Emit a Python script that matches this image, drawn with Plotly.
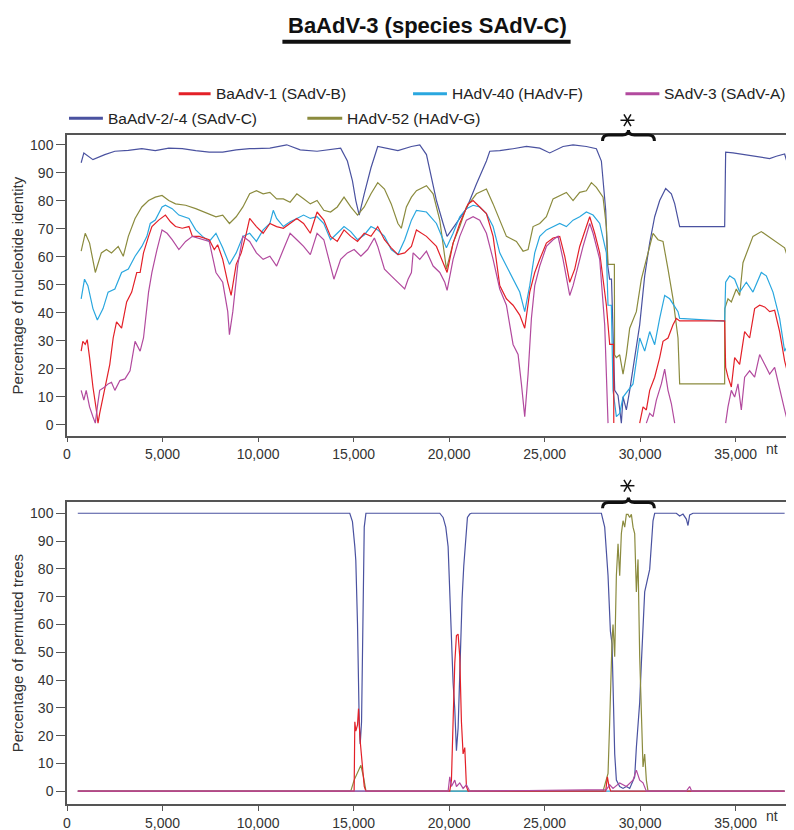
import plotly.graph_objects as go

# ---------------- data ----------------
SERIES_NAMES = ["BaAdV-1 (SAdV-B)", "HAdV-40 (HAdV-F)", "SAdV-3 (SAdV-A)",
                "BaAdV-2/-4 (SAdV-C)", "HAdV-52 (HAdV-G)"]
COLORS = {"red": "#e32028", "cyan": "#2aa7df", "magenta": "#b24a9e",
          "navy": "#4a52a0", "olive": "#8b8b3e"}
X_TICKS = [0, 5000, 10000, 15000, 20000, 25000, 30000, 35000]
X_TICK_LABELS = ["0", "5,000", "10,000", "15,000", "20,000", "25,000", "30,000", "35,000"]
Y_TICKS = [0, 10, 20, 30, 40, 50, 60, 70, 80, 90, 100]

# top panel: percentage of nucleotide identity (nt position, %)
TOP_NAVY = [(741, 93.6), (882, 97.1), (1358, 94.7), (1976, 96.5), (2505, 97.7), (3210, 98), (3916, 98.6),
            (4622, 97.9), (5327, 98.8), (6033, 98.6), (6738, 97.9), (7444, 97.4), (8150, 97.4), (8855, 98.2),
            (9561, 98.6), (10619, 98.8), (11501, 100), (12207, 98.2), (13089, 97.7), (13794, 98.2),
            (14324, 98.8), (14676, 94.2), (14941, 87.1), (15117, 80.1), (15294, 74.9), (15558, 82.5),
            (15911, 91.8), (16264, 99.4), (16793, 98.6), (17322, 97.9), (18028, 99.4), (18465, 100),
            (18814, 96.5), (19076, 88.3), (19337, 80.1), (19686, 71.9), (19895, 67.3), (20384, 72),
            (20907, 77.2), (21430, 86), (21953, 94.2), (22128, 97.7), (22651, 97.9), (23348, 98.6),
            (24046, 99.4), (24744, 98.8), (25267, 97.1), (25964, 99.4), (26488, 100), (27185, 99.4),
            (27708, 98.6), (27970, 94.2), (28197, 76.6), (28300, 57), (28400, 52), (28500, 52), (28580, 30),
            (28668, 12.3), (28842, 10.5), (29016, 0.6), (29104, 10), (29278, 5.3), (29452, 12.3),
            (29714, 24), (29976, 35.7), (30237, 53.2), (30499, 65), (30760, 74.3), (31022, 80.1),
            (31336, 84.4), (31632, 82.5), (31807, 79), (32068, 70.8), (34423, 70.8), (34475, 97.4),
            (34859, 97.1), (35208, 96.7), (35731, 96.3), (36254, 95.6), (36777, 95.1), (37126, 95.9),
            (37562, 96.7), (37736, 92.7)]
TOP_OLIVE = [(741, 62), (953, 68.4), (1182, 64.9), (1482, 54.4), (1799, 61.4), (2064, 62.6), (2328, 61.4),
             (2681, 63.7), (2946, 60.2), (3210, 67.3), (3563, 73.7), (3916, 77.8), (4269, 80.1), (4622, 81.3),
             (4974, 81.9), (5327, 80.1), (5680, 78.9), (6209, 78.4), (6738, 77.2), (7444, 75.4), (7797, 74.3),
             (8150, 74.9), (8502, 71.9), (8855, 74.3), (9208, 77.8), (9561, 82.5), (9914, 83.6), (10266, 82.5),
             (10619, 83), (10972, 80.7), (11325, 80.7), (11678, 79.5), (12030, 82.5), (12383, 80.7),
             (12736, 78.9), (13089, 80.1), (13442, 76.6), (13794, 76), (14147, 77.8), (14500, 81.3),
             (14853, 77.8), (15206, 74.9), (15558, 77.8), (15911, 82.5), (16264, 86.5), (16617, 84.2),
             (16970, 78.9), (17322, 71.9), (17499, 70.2), (17763, 77.8), (18028, 81.3), (18291, 83.6),
             (18814, 85.4), (19163, 82.5), (19512, 73.1), (19860, 55.6), (20209, 64.9), (20558, 70.8),
             (20907, 77.8), (21430, 82.5), (21953, 84.2), (22302, 78.9), (22651, 73.1), (23000, 67.3),
             (23523, 65.5), (23872, 62), (24133, 62.6), (24395, 70.8), (24744, 71.9), (25092, 74.3),
             (25441, 80.7), (25790, 81.9), (26139, 83), (26488, 80.1), (26836, 83), (27185, 83.6),
             (27447, 86.5), (27708, 84.8), (28057, 81.3), (28232, 70.8), (28319, 57.3), (28650, 57.3),
             (28660, 25), (28755, 24), (28929, 25), (29104, 18.1), (29278, 25), (29452, 34.5), (29801, 40.4),
             (30063, 52), (30324, 59.1), (30673, 68.4), (30935, 66.1), (31196, 65.5), (31458, 55.6),
             (31720, 45), (31981, 31), (32068, 14.6), (34423, 14.6), (34430, 41.5), (34597, 45),
             (34772, 43.9), (35033, 48.5), (35208, 46.2), (35382, 57.9), (35644, 62.6), (35905, 67.3),
             (36341, 69), (36603, 67.8), (36952, 66.1), (37300, 64.3), (37562, 63.2), (37736, 59.6)]
TOP_CYAN = [(741, 45), (917, 52), (1094, 49.7), (1358, 41.5), (1588, 37.4), (1887, 41.5), (2152, 47.4),
            (2505, 48.5), (2858, 54.4), (3210, 55.6), (3563, 60.2), (3916, 63.7), (4181, 67.3), (4357, 71.9),
            (4622, 73.1), (4974, 77.8), (5151, 78.4), (5504, 77.2), (5856, 74.9), (6386, 73.7), (6738, 69.6),
            (7091, 67.3), (7444, 65.5), (7797, 68.4), (8150, 63.2), (8502, 57.3), (8855, 61.4), (9208, 67.3),
            (9561, 68.4), (9914, 65.5), (10266, 69.6), (10619, 71.9), (10796, 76.6), (10972, 73.7),
            (11325, 70.8), (11678, 72.5), (12030, 73.7), (12383, 74.9), (12736, 73.7), (13089, 74.3),
            (13442, 71.9), (13794, 66.1), (14147, 68.4), (14500, 70.8), (14853, 69), (15206, 66.1),
            (15558, 67.8), (15911, 70.8), (16264, 69.6), (16617, 67.3), (16970, 62.6), (17322, 60.8),
            (17675, 66.1), (18028, 73.1), (18291, 76.6), (18814, 76), (19337, 71.9), (19686, 66.1),
            (19860, 63.2), (20209, 68.4), (20558, 74.3), (20907, 77.2), (21256, 78.4), (21604, 77.8),
            (21953, 75.4), (22302, 70.8), (22651, 61.4), (23000, 56.7), (23348, 52), (23697, 47.4),
            (23959, 40.4), (24220, 49.7), (24482, 61.4), (24744, 67.3), (25092, 69.6), (25441, 70.8),
            (25790, 71.9), (26139, 70.8), (26488, 73.1), (26836, 74.3), (27185, 76), (27534, 74.9),
            (27883, 71.9), (28232, 61.4), (28319, 42.7), (28493, 42.7), (28580, 12.3), (28755, 2.9),
            (28929, 4.1), (29104, 9.9), (29365, 12.3), (29627, 14.6), (29976, 31), (30237, 26.3),
            (30499, 33.3), (30760, 28.6), (31022, 38), (31284, 46.2), (31545, 45), (31807, 42.1),
            (31981, 40.4), (32068, 38), (34423, 37), (34475, 50.9), (34684, 53.2), (34946, 52),
            (35208, 47.4), (35556, 50.9), (35905, 47.4), (36341, 54.4), (36603, 53.2), (36952, 47.4),
            (37300, 38), (37562, 26.3), (37736, 28.6)]
TOP_RED = [(741, 26.3), (829, 29.8), (953, 28.7), (1058, 30.4), (1182, 24), (1358, 13.5), (1535, 5.3),
           (1623, 0.6), (1711, 4.1), (1887, 9.9), (2064, 15.8), (2240, 21.6), (2417, 31), (2593, 36.8),
           (2858, 34.5), (3122, 43.9), (3387, 47.4), (3651, 54.4), (3828, 54.4), (4004, 61.4), (4269, 67.3),
           (4445, 70.8), (4798, 73.1), (5151, 74.9), (5416, 72.5), (5680, 70.8), (6033, 70.2), (6386, 70.8),
           (6562, 67.3), (6915, 67.3), (7444, 66.1), (7709, 62.6), (7885, 64.3), (8150, 59.1), (8414, 50.9),
           (8591, 46.2), (8855, 57.3), (9120, 61.4), (9385, 68.4), (9561, 73.7), (9914, 70.8),
           (10266, 68.4), (10619, 71.9), (10972, 70.8), (11325, 70.2), (11678, 71.9), (12030, 73.7),
           (12383, 71.9), (12736, 68.4), (13089, 76), (13442, 73.1), (13794, 67.3), (14147, 65.5),
           (14500, 69.6), (14853, 67.3), (15206, 65.5), (15558, 68.4), (15911, 67.3), (16264, 70.8),
           (16617, 66.1), (16970, 63.2), (17322, 60.8), (17675, 61.4), (18028, 63.7), (18291, 69.6),
           (18814, 67.3), (19337, 63.7), (19686, 57.9), (19895, 54.4), (20209, 64.9), (20558, 71.9),
           (20994, 78.9), (21256, 80.1), (21604, 77.8), (21953, 75.4), (22302, 67.3), (22651, 49.7),
           (23000, 45), (23348, 42.7), (23697, 39.2), (23959, 34.5), (24220, 47.4), (24482, 54.4),
           (24744, 59.1), (25092, 64.9), (25441, 66.7), (25790, 67.3), (26052, 60.2), (26313, 50.9),
           (26575, 55.6), (26836, 63.7), (27185, 70.8), (27360, 74.3), (27621, 68.4), (27883, 61.4),
           (28232, 42.7), (28406, 28.7), (28615, 28.7), (28620, 0.6), (None, None), (29976, 0.6),
           (30150, 6.4), (30324, 5.3), (30499, 12.3), (30760, 17), (31022, 24), (31196, 29.8), (31458, 31),
           (31720, 35.7), (31894, 38), (32068, 37.1), (34423, 37.1), (34475, 20.5), (34597, 17),
           (34772, 13.5), (34946, 24), (35208, 21.6), (35469, 33.3), (35731, 31), (35992, 41.5),
           (36254, 42.7), (36516, 42.1), (36777, 40.4), (37039, 40.9), (37300, 33.3), (37562, 22.8),
           (37736, 18.1)]
TOP_MAGENTA = [(741, 12.3), (882, 8.8), (1005, 12.3), (1182, 6.4), (1358, 2.9), (1482, 0.6), (1588, 6.4),
               (1711, 12.3), (1976, 13.5), (2152, 14.6), (2328, 15.2), (2505, 12.3), (2769, 15.8),
               (3034, 16.4), (3299, 19.3), (3563, 29.8), (3828, 26.3), (4004, 31), (4269, 47.4), (4445, 54.4),
               (4710, 62.6), (4974, 69.6), (5239, 68.4), (5504, 66.1), (5856, 62.6), (6209, 65.5),
               (6562, 67.3), (7091, 66.1), (7444, 65.5), (7797, 54.4), (8150, 50.9), (8414, 40.4),
               (8502, 32.2), (8679, 40.4), (8943, 57.3), (9208, 67.3), (9561, 65.5), (9914, 61.4),
               (10266, 59.1), (10619, 60.2), (10972, 56.7), (11325, 62.6), (11678, 68.4), (12030, 66.1),
               (12383, 63.7), (12736, 60.8), (13089, 68.4), (13442, 66.1), (13794, 56.7), (13971, 52),
               (14324, 59.1), (14676, 61.4), (15029, 62.6), (15382, 60.2), (15735, 62.6), (16088, 66.7),
               (16264, 63.7), (16617, 55.6), (16970, 53.2), (17322, 50.9), (17675, 48.5), (17852, 52),
               (18028, 54.4), (18116, 61.4), (18465, 59.1), (18814, 62), (19163, 56.7), (19512, 54.4),
               (19773, 50.9), (19895, 48), (20209, 59.1), (20558, 67.3), (20907, 73.1), (21256, 74.3),
               (21604, 73.1), (21953, 68.4), (22302, 59.1), (22651, 48.5), (23000, 42.7), (23348, 28.7),
               (23610, 25.1), (23784, 14.6), (23959, 2.9), (24133, 18), (24308, 38), (24482, 49.7),
               (24744, 56.7), (25092, 63.7), (25441, 66.1), (25703, 67.3), (25964, 59.1), (26313, 46.2),
               (26488, 49.7), (26749, 56.7), (27011, 63.7), (27360, 71.9), (27534, 68.4), (27883, 59.1),
               (28144, 35.7), (28319, 0.6), (None, None), (30324, 0.6), (30499, 4.1), (30673, 2.9),
               (30848, 8.8), (31109, 14.6), (31284, 19.9), (31458, 12.3), (31632, 7.6), (31807, 0.6),
               (None, None), (34475, 0.6), (34597, 6.4), (34772, 12.3), (34946, 9.9), (35120, 14.6),
               (35295, 5.3), (35469, 17), (35731, 19.3), (35992, 17), (36254, 25.1), (36516, 21.6),
               (36777, 18.1), (37039, 20.5), (37300, 12.3), (37562, 5.3), (37736, 0.6)]

# bottom panel: percentage of permuted trees (nt position, %)
BOT_NAVY = [(565, 100), (14800, 100), (14941, 97), (15029, 92), (15065, 88), (15117, 83), (15206, 60),
            (15294, 25), (15347, 17), (15417, 25), (15470, 48), (15523, 77.5), (15558, 95), (15647, 100),
            (19512, 100), (19686, 98.5), (19826, 95), (19948, 88), (20035, 71.7), (20122, 54), (20174, 47),
            (20209, 39), (20296, 29.7), (20384, 14.6), (20471, 22.7), (20523, 36.7), (20593, 50.7),
            (20680, 69.3), (20767, 81), (20872, 89), (20959, 98.5), (21081, 99.7), (21168, 100),
            (27970, 100), (28144, 95), (28319, 77.5), (28441, 57.7), (28528, 53), (28580, 36.7),
            (28668, 13.4), (28755, 4), (28929, 1.7), (29104, 1), (29278, 1.7), (29452, 1), (29714, 5.2),
            (29801, 15.7), (29888, 22.7), (29976, 32), (30063, 46), (30150, 57.7), (30237, 71.7),
            (30499, 79.8), (30586, 89), (30673, 97.3), (30760, 100), (31894, 100), (32068, 99),
            (32242, 99.7), (32417, 97.9), (32504, 95.6), (32591, 99.4), (32766, 100), (37562, 100)]
BOT_OLIVE = [(565, 0), (14853, 0), (15029, 4), (15206, 6.4), (15382, 9.3), (15523, 5), (15647, 0),
             (28057, 0), (28232, 4), (28319, 6.4), (28406, 25), (28458, 41.4), (28528, 54.2), (28580, 60),
             (28668, 48.4), (28755, 77.5), (28842, 89), (28929, 77.5), (29016, 92.7), (29104, 97.3),
             (29191, 95), (29278, 99.6), (29365, 99.6), (29452, 98.5), (29540, 99.6), (29627, 95),
             (29714, 92.7), (29801, 71.7), (29888, 83.4), (29976, 48.4), (30063, 25), (30150, 8.7),
             (30237, 13.4), (30324, 4), (30412, 0), (37562, 0)]
BOT_CYAN = [(565, 0), (37562, 0)]
BOT_RED = [(565, 0), (15029, 0), (15065, 25), (15117, 21.6), (15206, 23.9), (15259, 29.7), (15347, 18),
           (15470, 8.7), (15558, 1.7), (15647, 0), (20035, 0), (20122, 4), (20209, 25), (20296, 46),
           (20384, 56), (20471, 56.5), (20558, 48.4), (20645, 25), (20732, 13.4), (20820, 15.7),
           (20907, 1.7), (20994, 0), (28197, 0), (28284, 5.2), (28371, 1.7), (28458, 0), (37562, 0)]
BOT_MAGENTA = [(565, 0), (19948, 0), (20035, 5.2), (20122, 1.7), (20296, 4), (20384, 1.7), (20558, 3),
               (20732, 1), (20907, 2.3), (21081, 0), (28232, 0.6), (28406, 2.3), (28580, 1), (28929, 3),
               (29278, 1.7), (29627, 4), (29801, 7.6), (29976, 4), (30150, 3), (30324, 0), (32417, 0),
               (32591, 1.7), (32700, 0), (37562, 0)]

# ---------------- figure ----------------
W, H = 794, 830
L, R, T, B = 59, 7, 127, 22
PW, PH = W - L - R, H - T - B
TOP_FRAME = (127, 433)
BOT_FRAME = (501, 808)
FONT = "Liberation Sans, Arial, sans-serif"


def px_x(px):
    return (px - L) / PW


def px_y(py):
    return (H - B - py) / PH


def unzip(pairs):
    return [p[0] for p in pairs], [p[1] for p in pairs]


fig = go.Figure()
top_order = [("navy", TOP_NAVY), ("olive", TOP_OLIVE), ("cyan", TOP_CYAN), ("red", TOP_RED),
             ("magenta", TOP_MAGENTA)]
bot_order = [("navy", BOT_NAVY), ("olive", BOT_OLIVE), ("cyan", BOT_CYAN), ("red", BOT_RED),
             ("magenta", BOT_MAGENTA)]
for key, pairs in top_order:
    xs, ys = unzip(pairs)
    fig.add_trace(go.Scatter(x=xs, y=ys, mode="lines", line=dict(color=COLORS[key], width=1.2),
                             connectgaps=False, showlegend=False, xaxis="x", yaxis="y"))
for key, pairs in bot_order:
    xs, ys = unzip(pairs)
    fig.add_trace(go.Scatter(x=xs, y=ys, mode="lines", line=dict(color=COLORS[key], width=1.2),
                             connectgaps=False, showlegend=False, xaxis="x2", yaxis="y2"))

axis_common = dict(showline=True, linecolor="#555555", linewidth=1.5, mirror=True, ticks="outside",
                   tickcolor="#555555", showgrid=False, zeroline=False,
                   tickfont=dict(family=FONT, size=14, color="#333333"))
xaxis_common = dict(axis_common, range=[0, 38000], tickvals=X_TICKS, ticktext=X_TICK_LABELS, ticklen=5)
yaxis_common = dict(axis_common, tickvals=Y_TICKS, ticklen=9)

fig.update_layout(
    width=W, height=H, autosize=False,
    margin=dict(l=L, r=R, t=T, b=B),
    paper_bgcolor="white", plot_bgcolor="white",
    xaxis=dict(xaxis_common, anchor="y", domain=[0, 1]),
    yaxis=dict(yaxis_common, anchor="x", domain=[px_y(TOP_FRAME[1]), 1], range=[-3.86, 103.5]),
    xaxis2=dict(xaxis_common, anchor="y2", domain=[0, 1]),
    yaxis2=dict(yaxis_common, anchor="x2", domain=[0, px_y(BOT_FRAME[0])], range=[-4.6, 103.9]),
)

annotations = []
shapes = []

# title + underline
annotations.append(dict(text="<b>BaAdV-3 (species SAdV-C)</b>", xref="paper", yref="paper",
                        x=px_x(420), y=px_y(16), xanchor="center", yanchor="middle", showarrow=False,
                        font=dict(family=FONT, size=22, color="#111111")))
shapes.append(dict(type="line", xref="paper", yref="paper", x0=px_x(275), x1=px_x(564),
                   y0=px_y(32), y1=px_y(32), line=dict(color="#111111", width=4)))

# legend (manual, two rows)
legend_items = [("red", SERIES_NAMES[0], 171, 203, 85), ("cyan", SERIES_NAMES[1], 406, 440, 85),
                ("magenta", SERIES_NAMES[2], 619, 653, 85), ("navy", SERIES_NAMES[3], 61, 95, 110),
                ("olive", SERIES_NAMES[4], 300, 335, 110)]
for key, name, x0, x1, yy in legend_items:
    shapes.append(dict(type="line", xref="paper", yref="paper", x0=px_x(x0), x1=px_x(x1),
                       y0=px_y(yy), y1=px_y(yy), line=dict(color=COLORS[key], width=3)))
    annotations.append(dict(text=name, xref="paper", yref="paper", x=px_x(x1 + 3), y=px_y(yy),
                            xanchor="left", yanchor="middle", showarrow=False,
                            font=dict(family=FONT, size=15.5, color="#222222")))

# y-axis titles
annotations.append(dict(text="Percentage of nucleotide identity", xref="paper", yref="paper",
                        x=px_x(9), y=px_y(sum(TOP_FRAME) / 2), textangle=-90, showarrow=False,
                        xanchor="center", yanchor="middle", font=dict(family=FONT, size=15, color="#333333")))
annotations.append(dict(text="Percentage of permuted trees", xref="paper", yref="paper",
                        x=px_x(9), y=px_y(sum(BOT_FRAME) / 2), textangle=-90, showarrow=False,
                        xanchor="center", yanchor="middle", font=dict(family=FONT, size=15, color="#333333")))

# "nt" unit labels
for yy in (447, 820):
    annotations.append(dict(text="nt", xref="paper", yref="paper", x=px_x(766), y=px_y(yy),
                            xanchor="center", yanchor="middle", showarrow=False,
                            font=dict(family=FONT, size=14, color="#333333")))


# braces + asterisks marking the recombinant region
def brace_path(xl, xr, yf):
    xc = (xl + xr) / 2
    pts = [("M", xl, yf + 6), ("Q", xl, yf, xl + 6, yf), ("L", xc - 6, yf), ("Q", xc, yf, xc, yf - 5),
           ("Q", xc, yf, xc + 6, yf), ("L", xr - 6, yf), ("Q", xr, yf, xr, yf + 6)]
    out = []
    for p in pts:
        cmd, coords = p[0], p[1:]
        pairs = []
        for i in range(0, len(coords), 2):
            pairs.append("%.5f,%.5f" % (px_x(coords[i]), px_y(coords[i + 1])))
        out.append(cmd + " " + " ".join(pairs))
    return " ".join(out)


for yf, yast in ((TOP_FRAME[0], 112), (BOT_FRAME[0], 484)):
    shapes.append(dict(type="path", xref="paper", yref="paper", path=brace_path(596, 648, yf),
                       line=dict(color="#111111", width=3)))
    cx = 621
    for dx, dy in ((7, 0), (3.5, 6), (3.5, -6)):
        shapes.append(dict(type="line", xref="paper", yref="paper", x0=px_x(cx - dx), x1=px_x(cx + dx),
                           y0=px_y(yast - dy), y1=px_y(yast + dy), line=dict(color="#111111", width=1.5)))

fig.update_layout(annotations=annotations, shapes=shapes)
fig.write_html("out.html")
